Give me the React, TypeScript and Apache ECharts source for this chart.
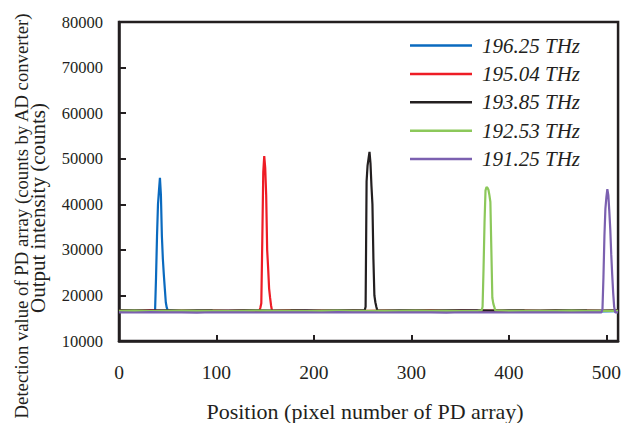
import React, { useEffect, useRef } from "react";
import * as echarts from "echarts";

const seriesNames = ["196.25 THz", "195.04 THz", "193.85 THz", "192.53 THz", "191.25 THz"];
const seriesColors = ["#0a6abf", "#ee1c25", "#231f20", "#8cc85a", "#7b60b0"];

const xTicks = [0, 100, 200, 300, 400, 500];
const yTicks = [10000, 20000, 30000, 40000, 50000, 60000, 70000, 80000];

// baseline sample positions (pixel number)
const baseX = [0, 16, 32, 48, 64, 80, 96, 112, 128, 144, 160, 176, 192, 208, 224, 240, 256,
  272, 288, 304, 320, 336, 352, 368, 384, 400, 416, 432, 448, 464, 480, 496, 512];

const blueBase = [16550, 16500, 16600, 16520, 16560, 16500, 16580, 16520, 16550, 16500, 16560, 16600, 16520,
  16550, 16500, 16580, 16520, 16560, 16500, 16550, 16600, 16520, 16550, 16500, 16560, 16520,
  16580, 16500, 16550, 16520, 16560, 16500, 16550];
const redBase = [16650, 16600, 16700, 16620, 16660, 16600, 16680, 16620, 16650, 16600, 16660, 16700, 16620,
  16650, 16600, 16680, 16620, 16660, 16600, 16650, 16700, 16620, 16650, 16600, 16660, 16620,
  16680, 16600, 16650, 16620, 16660, 16600, 16650];
const blackBase = [16700, 16750, 16650, 16720, 16680, 16750, 16700, 16660, 16720, 16750, 16680, 16700, 16750,
  16670, 16720, 16700, 16750, 16680, 16720, 16700, 16660, 16750, 16700, 16720, 16680, 16750,
  16700, 16670, 16720, 16750, 16700, 16680, 16700];
const greenBase = [16600, 16650, 16560, 16620, 16680, 16600, 16640, 16580, 16620, 16660, 16600, 16640, 16580,
  16620, 16660, 16600, 16640, 16590, 16630, 16660, 16600, 16640, 16580, 16620, 16660, 16600,
  16640, 16590, 16630, 16660, 16600, 16640, 16620];
const purpleBase = [16300, 16250, 16330, 16270, 16300, 16230, 16310, 16270, 16290, 16250, 16310, 16270, 16300,
  16250, 16320, 16270, 16290, 16250, 16310, 16270, 16300, 16240, 16310, 16270, 16290, 16250,
  16310, 16270, 16300, 16250, 16310, 16270, 16290];

const bluePeak = [[37, 16600], [38, 24000], [39, 33000], [40, 40000], [41, 43000], [42, 45800], [43, 42000],
  [44, 33000], [45, 28000], [46, 24500], [47, 21500], [48, 18500], [49, 17300], [50, 16700]];
const redPeak = [[144, 16600], [145, 17300], [146, 18300], [147, 32000], [148, 47000], [149, 50600], [150, 48000],
  [151, 42000], [152, 30000], [153, 26000], [154, 21500], [155, 19500], [156, 17800], [157, 16600]];
const blackPeak = [[252, 16700], [253, 17500], [254, 45000], [255, 48500], [256, 50000], [257, 51500], [258, 49000],
  [259, 44000], [260, 40000], [261, 28000], [262, 20000], [263, 18500], [264, 17500], [265, 16700]];
const greenPeak = [[372, 16700], [373, 17500], [374, 26000], [375, 36000], [376, 43000], [377, 43800], [378, 43600],
  [379, 43200], [380, 42000], [381, 40500], [382, 30000], [383, 19500], [384, 18200], [385, 17500], [386, 16700]];
const purplePeak = [[495, 16300], [496, 17000], [497, 24000], [498, 33000], [499, 39000], [500, 41500], [501, 43300],
  [502, 42000], [503, 38500], [504, 34500], [505, 29000], [506, 24500], [507, 20500], [508, 17500], [509, 16300]];

const bases = [blueBase, redBase, blackBase, greenBase, purpleBase];
const peaks = [bluePeak, redPeak, blackPeak, greenPeak, purplePeak];

function buildData(base: number[], peak: number[][]) {
  const lo = peak[0][0];
  const hi = peak[peak.length - 1][0];
  const pts = baseX.map((x, i) => [x, base[i]]).filter((p) => p[0] < lo || p[0] > hi);
  return [...pts, ...peak].sort((a, b) => a[0] - b[0]);
}

const FONT = '"Liberation Serif", "Times New Roman", serif';
const INK = "#231f20";

export default function App() {
  const ref = useRef<HTMLDivElement>(null);
  useEffect(() => {
    document.body.style.margin = "0";
    const chart = echarts.init(ref.current!, null, { renderer: "svg" });
    chart.setOption({
      animation: false,
      backgroundColor: "#ffffff",
      grid: {
        left: 119, right: 4, top: 22, bottom: 82, show: true,
        borderColor: INK, borderWidth: 2.5,
      },
      legend: {
        orient: "vertical", left: 410, top: 35, padding: 0,
        icon: "rect",
        itemWidth: 62, itemHeight: 2.5, itemGap: 7.4,
        data: seriesNames,
        textStyle: {
          fontFamily: FONT, fontSize: 21, fontStyle: "italic", color: INK,
          lineHeight: 20, padding: [0, 0, 0, 5],
        },
      },
      xAxis: {
        type: "value", min: 0, max: 512, interval: 100,
        axisLine: { show: true, lineStyle: { color: INK, width: 2.5 } },
        axisTick: { show: true, inside: true, length: 6, lineStyle: { color: INK, width: 2 } },
        splitLine: { show: false },
        axisLabel: {
          showMaxLabel: false, margin: 21,
          fontFamily: FONT, fontSize: 19.5, color: INK,
          formatter: (v: number) => (xTicks.includes(v) ? String(v) : ""),
        },
      },
      yAxis: {
        type: "value", min: yTicks[0], max: yTicks[yTicks.length - 1], interval: 10000,
        axisLine: { show: true, lineStyle: { color: INK, width: 2.5 } },
        axisTick: { show: true, inside: true, length: 7, lineStyle: { color: INK, width: 2 } },
        splitLine: { show: false },
        axisLabel: {
          margin: 16, fontFamily: FONT, fontSize: 16.5, color: INK,
          formatter: (v: number) => String(v),
        },
      },
      graphic: [
        {
          type: "text", x: 365, y: 411,
          style: {
            text: "Position (pixel number of PD array)", fontFamily: FONT, fontSize: 22,
            fill: INK, align: "center", verticalAlign: "middle",
          },
        },
        {
          type: "text", x: 21, y: 216, rotation: Math.PI / 2,
          style: {
            text: "Detection value of PD array (counts by AD converter)", fontFamily: FONT, fontSize: 18.7,
            fill: INK, align: "center", verticalAlign: "middle",
          },
        },
        {
          type: "text", x: 38, y: 208, rotation: Math.PI / 2,
          style: {
            text: "Output intensity (counts)", fontFamily: FONT, fontSize: 21,
            fill: INK, align: "center", verticalAlign: "middle",
          },
        },
      ],
      series: seriesNames.map((name, i) => ({
        name,
        type: "line",
        symbol: "none",
        data: buildData(bases[i], peaks[i]),
        lineStyle: { color: seriesColors[i], width: 2.2 },
        itemStyle: { color: seriesColors[i] },
      })),
    });
    return () => chart.dispose();
  }, []);
  return <div ref={ref} style={{ width: 624, height: 423 }} />;
}
